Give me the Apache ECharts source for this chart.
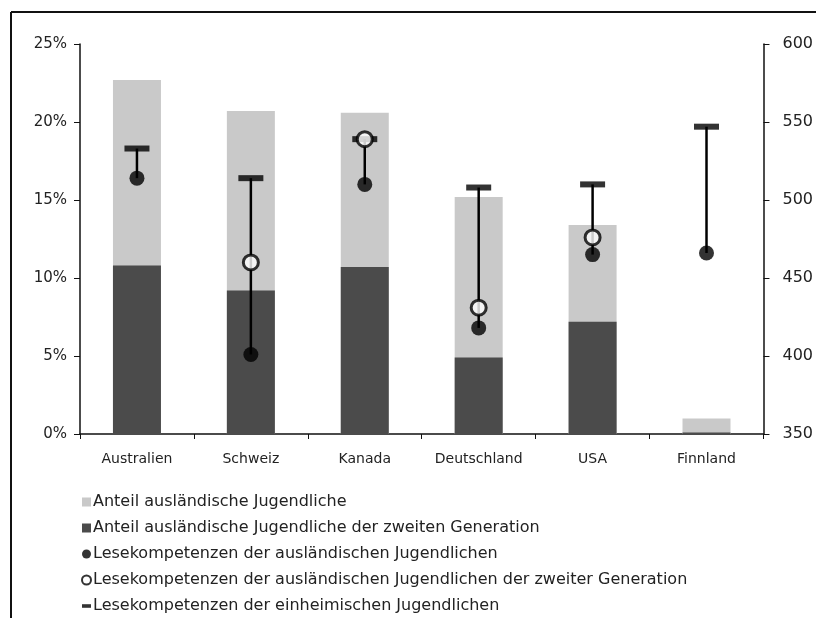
<!DOCTYPE html>
<html>
<head>
<meta charset="utf-8">
<script src="https://cdn.jsdelivr.net/npm/echarts@6/dist/echarts.min.js"></script>
<style>html,body{margin:0;padding:0;background:#fff}#c{width:816px;height:618px}</style>
</head>
<body>
<div id="c"></div>
<script>
const categories = ['Australien', 'Schweiz', 'Kanada', 'Deutschland', 'USA', 'Finnland'];
const shareForeign = [22.7, 20.7, 20.6, 15.2, 13.4, 1.0];
const shareSecondGen = [10.8, 9.2, 10.7, 4.9, 7.2, 0.1];
const readingForeign = [514, 401, 510, 418, 465, 466];
const readingSecondGen = [null, 460, 539, 431, 476, null];
const readingNative = [533, 514, 539, 508, 510, 547];
const leftTicks = [0, 5, 10, 15, 20, 25];
const rightTicks = [350, 400, 450, 500, 550, 600];

const names = [
  'Anteil ausländische Jugendliche',
  'Anteil ausländische Jugendliche der zweiten Generation',
  'Lesekompetenzen der ausländischen Jugendlichen',
  'Lesekompetenzen der ausländischen Jugendlichen der zweiter Generation',
  'Lesekompetenzen der einheimischen Jugendlichen'
];

const rangeData = categories.map((c, i) => {
  const vals = [readingNative[i], readingForeign[i], readingSecondGen[i]].filter(v => v != null);
  return [i, Math.max(...vals), Math.min(...vals)];
});

const font = '"DejaVu Sans", "Open Sans", sans-serif';
const chart = echarts.init(document.getElementById('c'), null, {renderer: 'canvas'});
chart.setOption({
  animation: false,
  backgroundColor: '#fff',
  textStyle: {fontFamily: font},
  graphic: [
    {type: 'line', shape: {x1: 11, y1: 12, x2: 816, y2: 12}, style: {stroke: '#111', lineWidth: 2}},
    {type: 'line', shape: {x1: 11, y1: 12, x2: 11, y2: 618}, style: {stroke: '#111', lineWidth: 2}}
  ],
  grid: {left: 80, right: 52, top: 44, bottom: 184},
  legend: {
    orient: 'vertical', left: 81, top: 493, padding: 0, itemWidth: 9, itemHeight: 9, itemGap: 8,
    textStyle: {fontSize: 16, color: '#222', fontFamily: font, padding: [0, 0, 0, -3], lineHeight: 18},
    data: [
      {name: names[0], icon: 'rect', itemStyle: {color: '#c9c9c9'}},
      {name: names[1], icon: 'rect'},
      {name: names[2], icon: 'circle'},
      {name: names[3], icon: 'circle'},
      {name: names[4], icon: 'path://M0,3h10v4h-10z'}
    ]
  },
  xAxis: {
    type: 'category', data: categories,
    axisLine: {lineStyle: {color: '#111', width: 1.5}},
    axisTick: {show: true, alignWithLabel: false, length: 5, lineStyle: {color: '#111'}},
    axisLabel: {fontSize: 14, color: '#222', margin: 18, interval: 0}
  },
  yAxis: [
    {
      type: 'value', min: 0, max: 25, interval: 5, position: 'left',
      axisLine: {show: true, lineStyle: {color: '#111', width: 1.5}},
      axisTick: {show: true, length: 6, lineStyle: {color: '#111'}},
      splitLine: {show: false},
      axisLabel: {fontSize: 15, color: '#222', margin: 13, formatter: v => leftTicks.includes(v) ? v + '%' : ''}
    },
    {
      type: 'value', min: 350, max: 600, interval: 50, position: 'right',
      axisLine: {show: true, lineStyle: {color: '#111', width: 1.5}},
      axisTick: {show: true, length: 6, lineStyle: {color: '#111'}},
      splitLine: {show: false},
      axisLabel: {fontSize: 16, color: '#222', margin: 19, formatter: v => rightTicks.includes(v) ? String(v) : ''}
    }
  ],
  series: [
    {name: names[0], type: 'bar', data: shareForeign, barWidth: 48, barGap: '-100%', itemStyle: {color: '#c9c9c9'}, z: 1},
    {name: names[1], type: 'bar', data: shareSecondGen, barWidth: 48, barGap: '-100%', itemStyle: {color: '#4b4b4b'}, z: 2},
    {
      name: 'range', type: 'custom', yAxisIndex: 1, data: rangeData, z: 3,
      renderItem: (params, api) => {
        const p1 = api.coord([api.value(0), api.value(1)]);
        const p2 = api.coord([api.value(0), api.value(2)]);
        return {type: 'line', shape: {x1: p1[0], y1: p1[1], x2: p2[0], y2: p2[1]}, style: {stroke: '#000', lineWidth: 2.5}};
      }
    },
    {name: names[4], type: 'scatter', yAxisIndex: 1, data: readingNative, symbol: 'rect', symbolSize: [25, 6], itemStyle: {color: '#000'}, z: 4},
    {name: names[2], type: 'scatter', yAxisIndex: 1, data: readingForeign, symbol: 'circle', symbolSize: 15, itemStyle: {color: '#000'}, z: 5},
    {name: names[3], type: 'scatter', yAxisIndex: 1, data: readingSecondGen, symbol: 'circle', symbolSize: 15, itemStyle: {color: '#fff', borderColor: '#000', borderWidth: 3}, z: 6}
  ]
});
</script>
</body>
</html>
